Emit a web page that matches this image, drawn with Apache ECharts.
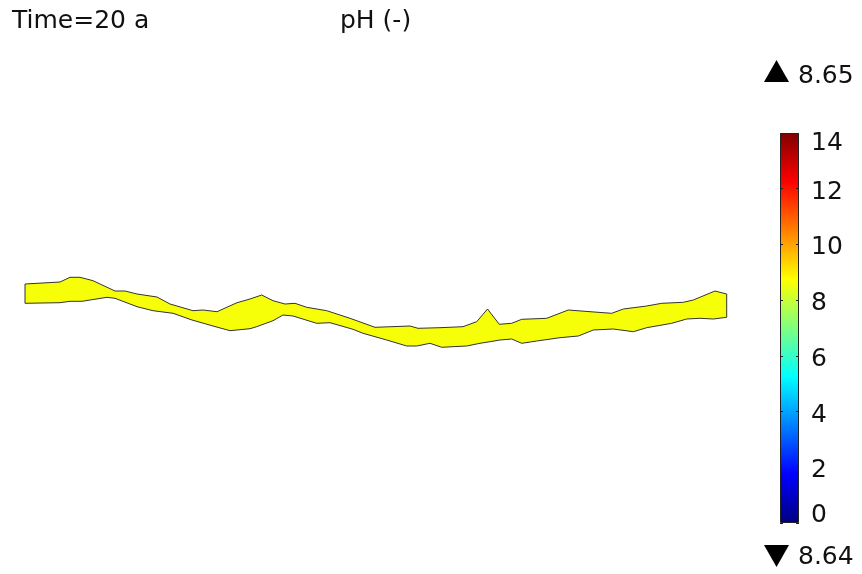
<!DOCTYPE html>
<html>
<head>
<meta charset="utf-8">
<script src="https://cdn.jsdelivr.net/npm/echarts@6/dist/echarts.min.js"></script>
<style>
html,body{margin:0;padding:0;background:#fff;}
#chart{width:862px;height:574px;}
</style>
</head>
<body>
<div id="chart"></div>
<script>
// ---- data ----
const titleLeft = 'Time=20 a';
const titleQuantity = 'pH (-)';
const phMax = 8.65;
const phMin = 8.64;
const phValue = 8.645;
const colorRange = [0, 14];
const colorTicks = [0, 2, 4, 6, 8, 10, 12, 14];
// domain boundary (x, y) in model units
const upperBoundary = [
  [0,66],[35,68],[45,72.7],[55,72.7],[68,69.3],[90,59],[100,59],[112,56],[132,53],[145,46],
  [168,39.3],[178,40],[192,38.3],[212,47.3],[225,51],[236.7,55],[248,49.3],[260,46],[270,46.7],
  [281.7,42.7],[301.7,39.3],[325,31.7],[350,22.7],[385,24],[393,21.7],[415,22.3],[438,23.3],
  [451.7,28.3],[462.5,41],[474.3,25.7],[486.7,26.7],[496.7,30.7],[521.7,31.7],[543.3,40],
  [565,38.3],[586.7,36.7],[598.3,41],[621.7,44],[636.7,46.7],[658.3,47.7],[668.3,50],[690,59],[701.7,56]
];
const lowerBoundary = [
  [0,46.7],[35,47.3],[45,48.7],[57,48.7],[82,52.7],[90,51.7],[112,43.3],[128,39.3],[148,36.7],
  [167,30],[188,24],[205,19.3],[225,21.3],[231.7,23.3],[248,29.3],[258,35],[268,34],[291.7,26.7],
  [305,27.3],[328,20.7],[338,16.7],[361.7,10],[381.7,4],[391.7,4],[405,6.7],[416.7,2.7],[428,3.3],
  [441.7,4],[455,6.7],[465,8.3],[475,10],[486.7,11],[496.7,6.7],[511.7,9],[535,12.3],[553.3,14],
  [568.3,20],[588.3,21],[608.3,18.3],[621.7,22.3],[646.7,26.7],[661.7,31],[675,31.7],[688.3,31],[701.7,32.7]
];

// ---- jet colormap ----
const jetStops = [
  [0, 'rgb(0,0,128)'], [0.125, 'rgb(0,0,255)'], [0.375, 'rgb(0,255,255)'],
  [0.625, 'rgb(255,255,0)'], [0.875, 'rgb(255,0,0)'], [1, 'rgb(128,0,0)']
];
function jet(t) {
  const c = v => Math.round(255 * Math.max(0, Math.min(1, v)));
  return 'rgb(' + c(1.5 - Math.abs(4 * t - 3)) + ',' + c(1.5 - Math.abs(4 * t - 2)) + ',' + c(1.5 - Math.abs(4 * t - 1)) + ')';
}
const fillColor = jet((phValue - colorRange[0]) / (colorRange[1] - colorRange[0]));

const FONT = '"DejaVu Sans", "Liberation Sans", sans-serif';
const FS = 25;
const chart = echarts.init(document.getElementById('chart'));

const polygon = upperBoundary.concat(lowerBoundary.slice().reverse());
const labelStyle = { fontFamily: FONT, fontSize: FS, color: '#111', lineHeight: FS };

chart.setOption({
  animation: false,
  backgroundColor: '#fff',
  title: [
    { text: titleLeft, left: 7, top: 4, textStyle: { fontFamily: FONT, fontSize: FS, fontWeight: 'normal', color: '#111' } },
    { text: titleQuantity, left: 335, top: 4, textStyle: { fontFamily: FONT, fontSize: FS, fontWeight: 'normal', color: '#111' } }
  ],
  grid: [
    { left: 25, right: 135, top: 250, height: 100 },
    { left: 780, width: 19, top: 133, height: 390 }
  ],
  xAxis: [
    { gridIndex: 0, type: 'value', min: 0, max: 702, show: false },
    { gridIndex: 1, type: 'category', data: ['c'], show: false }
  ],
  yAxis: [
    { gridIndex: 0, type: 'value', min: 0, max: 100, show: false },
    { gridIndex: 1, type: 'value', min: colorRange[0], max: colorRange[1], interval: 2, position: 'right', z: 10,
      axisLine: { show: false }, splitLine: { show: false },
      axisTick: { show: true, inside: true, length: 3, lineStyle: { color: '#222' } },
      axisLabel: {
        fontFamily: FONT, fontSize: FS, color: '#111', margin: 12,
        formatter: function (v) {
          if (v === colorRange[1]) return '{top|' + v + '}';
          if (v === colorRange[0]) return '{bot|' + v + '}';
          return '{mid|' + v + '}';
        },
        rich: {
          top: Object.assign({ padding: [20, 0, 0, 0] }, labelStyle),
          bot: Object.assign({ padding: [0, 0, 15, 0] }, labelStyle),
          mid: Object.assign({ padding: [7, 0, 0, 0] }, labelStyle)
        }
      } },
    { gridIndex: 1, type: 'value', min: colorRange[0], max: colorRange[1], interval: 2, position: 'left', z: 10,
      axisLine: { show: false }, splitLine: { show: false }, axisLabel: { show: false },
      axisTick: { show: true, inside: true, length: 3, lineStyle: { color: '#222' } } }
  ],
  series: [
    {
      type: 'custom', xAxisIndex: 0, yAxisIndex: 0, coordinateSystem: 'cartesian2d',
      data: [[0, 0]],
      renderItem: function (params, api) {
        const pts = polygon.map(p => api.coord(p));
        return { type: 'polygon', shape: { points: pts },
          style: { fill: fillColor, stroke: '#333', lineWidth: 1 } };
      },
      silent: true
    },
    {
      type: 'bar', xAxisIndex: 1, yAxisIndex: 1, data: [colorRange[1]], barWidth: '100%', silent: true,
      itemStyle: {
        color: new echarts.graphic.LinearGradient(0, 1, 0, 0, jetStops.map(s => ({ offset: s[0], color: s[1] }))),
        borderColor: '#222', borderWidth: 1
      }
    }
  ],
  graphic: [
    { type: 'polygon', shape: { points: [[764, 82], [789, 82], [776.5, 60]] }, style: { fill: '#000' } },
    { type: 'text', left: 798, top: 64, style: { text: phMax.toFixed(2), fontFamily: FONT, fontSize: FS, fill: '#111' } },
    { type: 'polygon', shape: { points: [[764, 545], [789, 545], [776.5, 567]] }, style: { fill: '#000' } },
    { type: 'text', left: 798, top: 545, style: { text: phMin.toFixed(2), fontFamily: FONT, fontSize: FS, fill: '#111' } }
  ]
});
</script>
</body>
</html>
